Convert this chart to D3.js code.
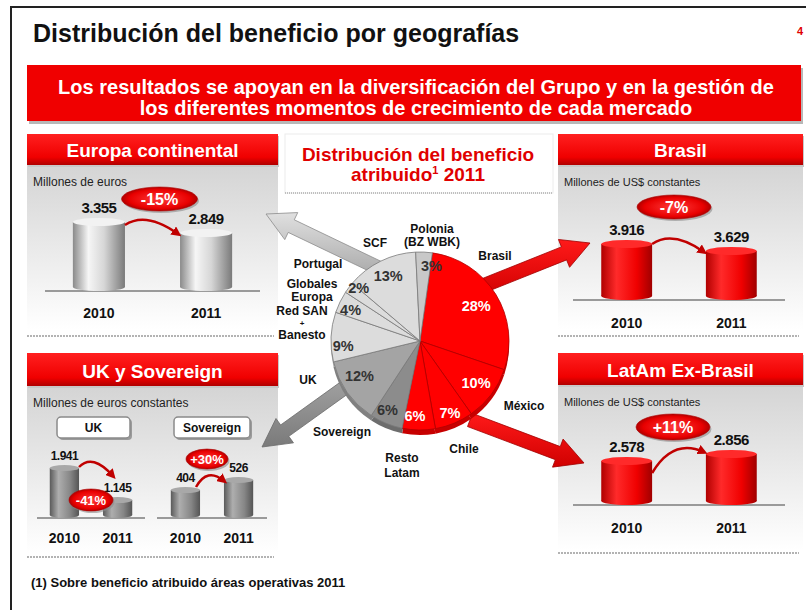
<!DOCTYPE html>
<html>
<head>
<meta charset="UTF-8">
<style>
  body { margin: 0; background: #fff; }
  svg { display: block; font-family: "Liberation Sans", Arial, sans-serif; }
</style>
</head>
<body>
<svg></svg>
<script src="https://d3js.org/d3.v7.min.js"></script>
<script>
// ---- data ----
const years = ["2010", "2011"];
const europaValues = [3355, 2849];
const ukValues = [1941, 1145];
const sovereignValues = [404, 526];
const brasilValues = [3916, 3629];
const latamValues = [2578, 2856];

const pieNames = ["Brasil", "México", "Chile", "Resto Latam", "Sovereign", "UK",
                  "Red SAN + Banesto", "Globales Europa", "Portugal", "SCF", "Polonia (BZ WBK)"];
const pieShares = [28, 10, 7, 6, 6, 12, 9, 4, 2, 13, 3];

const width = 806, height = 610;
const svg = d3.select("svg").attr("width", width).attr("height", height);
const defs = svg.append("defs");

const fmt = d3.formatLocale({decimal: ",", thousands: ".", grouping: [3], currency: ["", ""]}).format(",d");

function grad(id, stops, horizontal) {
  const g = defs.append("linearGradient").attr("id", id)
    .attr("x1", 0).attr("y1", 0).attr("x2", horizontal ? 1 : 0).attr("y2", horizontal ? 0 : 1);
  stops.forEach(s => g.append("stop").attr("offset", s[0]).attr("stop-color", s[1]));
}
grad("hdr", [[0, "#ff2020"], [0.75, "#f00000"], [1, "#b00000"]]);
grad("panelBg", [[0, "#d4d4d4"], [1, "#ffffff"]]);
grad("silver", [[0, "#8a8a8a"], [0.3, "#f6f6f6"], [0.6, "#d6d6d6"], [1, "#7a7a7a"]], true);
grad("grayCyl", [[0, "#5a5a5a"], [0.3, "#aeaeae"], [0.7, "#868686"], [1, "#555"]], true);
grad("redCyl", [[0, "#b00000"], [0.3, "#ff2a2a"], [0.7, "#f00000"], [1, "#a00000"]], true);
grad("grayArrow", [[0, "#e0e0e0"], [1, "#a8a8a8"]]);
grad("darkArrow", [[0, "#a8a8a8"], [1, "#7a7a7a"]]);
grad("redArrow", [[0, "#ff1a1a"], [1, "#d00000"]]);
const rg = defs.append("radialGradient").attr("id", "badge");
rg.append("stop").attr("offset", 0).attr("stop-color", "#ff3a3a");
rg.append("stop").attr("offset", 0.8).attr("stop-color", "#e80000");
rg.append("stop").attr("offset", 1).attr("stop-color", "#b00000");

defs.append("marker").attr("id", "arrowhead")
  .attr("viewBox", "0 -5 10 10").attr("refX", 6).attr("refY", 0)
  .attr("markerWidth", 4).attr("markerHeight", 4).attr("orient", "auto")
  .append("path").attr("d", "M0,-5L10,0L0,5").attr("fill", "#c00000");

// ---- frame and headings ----
svg.append("path").attr("d", "M11," + height + "V7H" + width)
  .attr("fill", "none").attr("stroke", "#222").attr("stroke-width", 2);

svg.append("text").attr("x", 33).attr("y", 42)
  .attr("font-size", 25).attr("font-weight", "bold").attr("fill", "#111")
  .text("Distribución del beneficio por geografías");
svg.append("text").attr("x", 797).attr("y", 35)
  .attr("font-size", 11).attr("font-weight", "bold").attr("fill", "#e00000").text("4");

svg.append("rect").attr("x", 29).attr("y", 68).attr("width", 774).attr("height", 56).attr("fill", "#b8b8b8");
svg.append("rect").attr("x", 27).attr("y", 65).attr("width", 774).attr("height", 56).attr("fill", "#f00000");
const banner = svg.append("text").attr("text-anchor", "middle").attr("fill", "#fff")
  .attr("font-size", 20).attr("font-weight", "bold");
banner.append("tspan").attr("x", 416).attr("y", 94)
  .text("Los resultados se apoyan en la diversificación del Grupo y en la gestión de");
banner.append("tspan").attr("x", 416).attr("y", 115)
  .text("los diferentes momentos de crecimiento de cada mercado");

// ---- side panels ----
function panel(x, y, w, hh, bodyBottom, lineY, title, subtitle, subSize) {
  const g = svg.append("g");
  g.append("rect").attr("x", x).attr("y", y + hh).attr("width", w).attr("height", bodyBottom - y - hh)
    .attr("fill", "url(#panelBg)");
  g.append("rect").attr("x", x + 1).attr("y", y + 2).attr("width", w).attr("height", hh).attr("fill", "#c8c8c8");
  g.append("rect").attr("x", x).attr("y", y).attr("width", w).attr("height", hh).attr("fill", "url(#hdr)");
  g.append("text").attr("x", x + w / 2).attr("y", y + hh - 8).attr("text-anchor", "middle")
    .attr("font-size", 19).attr("font-weight", "bold").attr("fill", "#fff").text(title);
  g.append("text").attr("x", x + 6).attr("y", y + hh + 21).attr("font-size", subSize).attr("fill", "#222").text(subtitle);
  g.append("line").attr("x1", x).attr("x2", x + w - 4).attr("y1", lineY).attr("y2", lineY)
    .attr("stroke", "#9a9a9a").attr("stroke-width", 1.5).attr("stroke-dasharray", "2,1");
}
panel(27, 134, 251, 31, 330, 336, "Europa continental", "Millones de euros", 12);
panel(27, 353, 251, 33, 553, 557, "UK y Sovereign", "Millones de euros constantes", 12);
panel(558, 134, 245, 31, 330, 336, "Brasil", "Millones de US$ constantes", 11);
panel(558, 353, 245, 32, 550, 553, "LatAm Ex-Brasil", "Millones de US$ constantes", 11);

// small tabs in UK panel
[["UK", 57, 73], ["Sovereign", 174, 76]].forEach(t => {
  svg.append("rect").attr("x", t[1] + 2).attr("y", 419).attr("width", t[2]).attr("height", 21).attr("rx", 4)
    .attr("fill", "#9a9a9a");
  svg.append("rect").attr("x", t[1]).attr("y", 417).attr("width", t[2]).attr("height", 21).attr("rx", 4)
    .attr("fill", "#fff").attr("stroke", "#8a8a8a").attr("stroke-width", 1.5);
  svg.append("text").attr("x", t[1] + t[2] / 2).attr("y", 432).attr("text-anchor", "middle")
    .attr("font-size", 12).attr("font-weight", "bold").attr("fill", "#111").text(t[0]);
});

// ---- central title ----
svg.append("rect").attr("x", 285).attr("y", 134).attr("width", 268).attr("height", 59)
  .attr("fill", "none").attr("stroke", "#ececec");
svg.append("line").attr("x1", 285).attr("x2", 552).attr("y1", 193).attr("y2", 193)
  .attr("stroke", "#8a8a8a").attr("stroke-dasharray", "1,1");
const ct = svg.append("text").attr("text-anchor", "middle").attr("fill", "#e00000")
  .attr("font-size", 19).attr("font-weight", "bold");
ct.append("tspan").attr("x", 418).attr("y", 161).text("Distribución del beneficio");
const l2 = ct.append("tspan").attr("x", 418).attr("y", 181);
l2.append("tspan").text("atribuido");
l2.append("tspan").attr("font-size", 11).attr("dy", -7).text("1");
l2.append("tspan").attr("dy", 7).text(" 2011");

// ---- big arrows from pie to panels ----
function bigArrow(x0, y0, x1, y1, shaft, headW, headL) {
  const dx = x1 - x0, dy = y1 - y0, L = Math.hypot(dx, dy);
  const ux = dx / L, uy = dy / L, nx = -uy, ny = ux;
  const bx = x1 - ux * headL, by = y1 - uy * headL;
  return [
    [x0 + nx * shaft / 2, y0 + ny * shaft / 2], [bx + nx * shaft / 2, by + ny * shaft / 2],
    [bx + nx * headW / 2, by + ny * headW / 2], [x1, y1],
    [bx - nx * headW / 2, by - ny * headW / 2], [bx - nx * shaft / 2, by - ny * shaft / 2],
    [x0 - nx * shaft / 2, y0 - ny * shaft / 2]
  ];
}
const arrows = [
  {from: [385, 271], to: [266, 214], fill: "url(#grayArrow)", stroke: "#8c8c8c"},
  {from: [365, 373], to: [262, 447], fill: "url(#darkArrow)", stroke: "#6a6a6a"},
  {from: [470, 291], to: [590, 243], fill: "url(#redArrow)", stroke: "#a00000"},
  {from: [470, 420], to: [584, 463], fill: "url(#redArrow)", stroke: "#a00000"}
];
const lineGen = d3.line().curve(d3.curveLinearClosed);
arrows.forEach(a => {
  svg.append("path").attr("d", lineGen(bigArrow(a.from[0], a.from[1], a.to[0], a.to[1], 14, 30, 28)))
    .attr("fill", a.fill).attr("stroke", a.stroke).attr("stroke-width", 0.8);
});

// ---- pie ----
const cx = 420, cy = 341, R = 89, depth = 5;
const slices = d3.pie().sort(null)
  .startAngle(8 * Math.PI / 180).endAngle(368 * Math.PI / 180)(pieShares);
const arc = d3.arc().innerRadius(0).outerRadius(R);
function sliceFill(i) {
  if (i < 4) return "#ff0000";
  if (i === 4) return "#8c8c8c";
  if (i === 5) return "#a4a4a4";
  if (i === 10) return "#c8c8c8";
  return "#dcdcdc";
}
// percentage label placement: [angle nudge in degrees, radius]
const pctPlacement = {
  "Brasil": [0, 66], "México": [0, 70], "Chile": [0, 78], "Resto Latam": [3, 75],
  "Sovereign": [3, 76], "UK": [5, 70], "Red SAN + Banesto": [-6, 77],
  "Globales Europa": [-2, 76], "Portugal": [4, 81], "SCF": [0, 72], "Polonia (BZ WBK)": [6, 76]
};
const pieG = svg.append("g").attr("transform", "translate(" + cx + "," + cy + ")");
pieG.append("g").attr("transform", "translate(0," + depth + ")")
  .selectAll("path").data(slices).join("path")
  .attr("d", arc).attr("fill", (d, i) => d3.color(sliceFill(i)).darker(0.7));
pieG.append("g").selectAll("path").data(slices).join("path")
  .attr("d", arc).attr("fill", (d, i) => sliceFill(i))
  .attr("stroke", (d, i) => i < 4 ? "#b00000" : "#7a7a7a").attr("stroke-width", 0.8);
pieG.append("g").selectAll("text").data(slices).join("text")
  .attr("transform", (d, i) => {
    const p = pctPlacement[pieNames[i]];
    const a = (d.startAngle + d.endAngle) / 2 + p[0] * Math.PI / 180;
    return "translate(" + d3.pointRadial(a, p[1]) + ")";
  })
  .attr("dy", "0.35em").attr("text-anchor", "middle")
  .attr("font-size", 14.5).attr("font-weight", "bold")
  .attr("fill", (d, i) => i < 4 ? "#fff" : "#333")
  .text(d => d.data + "%");

// outer labels: offset from pie centre, text lines, line step
const pieLabelLayout = {
  "Brasil": [75, -85, ["Brasil"], 0],
  "México": [104, 65, ["México"], 0],
  "Chile": [44, 108, ["Chile"], 0],
  "Resto Latam": [-18, 117, ["Resto", "Latam"], 15],
  "Sovereign": [-78, 91, ["Sovereign"], 0],
  "UK": [-112, 39, ["UK"], 0],
  "Red SAN + Banesto": [-118, -30, ["Red SAN", "+", "Banesto"], 12],
  "Globales Europa": [-108, -57, ["Globales", "Europa"], 13],
  "Portugal": [-102, -77, ["Portugal"], 0],
  "SCF": [-45, -98, ["SCF"], 0],
  "Polonia (BZ WBK)": [12, -112, ["Polonia", "(BZ WBK)"], 13]
};
pieNames.forEach(name => {
  const lay = pieLabelLayout[name];
  const t = pieG.append("text").attr("text-anchor", "middle")
    .attr("font-size", 12).attr("font-weight", "bold").attr("fill", "#111");
  lay[2].forEach((ln, k) => {
    t.append("tspan").attr("x", lay[0]).attr("y", lay[1] + 4 + k * lay[3] - (ln === "+" ? 1 : 0))
      .attr("font-size", ln === "+" ? 8 : null).text(ln);
  });
});

// ---- bar charts ----
const charts = [
  {values: europaValues, x0: 45, x1: 260, base: 291, padIn: 0.514, padOut: 0.26, lo: 0, hMax: 73,
   fill: "silver", cap: "#f2f2f2", capR: 4, yearY: 318, badge: [7, -19, 38, 12, 16], arcOff: [0, 7, -2, 5], fs: 15},
  {values: brasilValues, x0: 573, x1: 785, base: 300, padIn: 0.514, padOut: 0.27, lo: 1456, hMax: 60,
   fill: "redCyl", cap: "#ff2a2a", capR: 4, yearY: 328, badge: [-5, -33, 37, 12, 16], arcOff: [0, 4, -2, 5], fs: 15},
  {values: latamValues, x0: 573, x1: 785, base: 505, padIn: 0.514, padOut: 0.27, lo: 672, hMax: 55,
   fill: "redCyl", cap: "#ff2a2a", capR: 4, yearY: 533, badge: [-6, -23, 37, 13, 16], arcOff: [0, 16, -2, 2], fs: 15},
  {values: ukValues, x0: 37, x1: 145, base: 518, padIn: 0.45, padOut: 0.24, lo: 623, hMax: 53,
   fill: "grayCyl", cap: "#a8a8a8", capR: 3, yearY: 543, badge: [0, 35, 22, 11, 13], arcOff: [0, 2, 10, -21], fs: 12},
  {values: sovereignValues, x0: 157, x1: 267, base: 518, padIn: 0.45, padOut: 0.26, lo: 26, hMax: 41,
   fill: "grayCyl", cap: "#a8a8a8", capR: 3, yearY: 543, badge: [-5, -18, 21, 10, 13], arcOff: [-4, 0, 0, 4], fs: 12}
];

charts.forEach(c => {
  const x = d3.scaleBand().domain(years).range([c.x0, c.x1]).paddingInner(c.padIn).paddingOuter(c.padOut);
  const y = d3.scaleLinear().domain([c.lo, d3.max(c.values)]).range([c.base, c.base - c.hMax]);
  const g = svg.append("g");
  const bw = x.bandwidth(), r = c.capR;
  const rows = years.map((yr, i) => ({yr: yr, v: c.values[i]}));

  g.append("line").attr("x1", c.x0).attr("x2", c.x1).attr("y1", c.base).attr("y2", c.base)
    .attr("stroke", "#9a9a9a").attr("stroke-width", 2);

  const bar = g.selectAll("g.bar").data(rows).join("g").attr("class", "bar");
  bar.append("ellipse").attr("cx", d => x(d.yr) + bw / 2).attr("cy", c.base - r)
    .attr("rx", bw / 2).attr("ry", r).attr("fill", "url(#" + c.fill + ")");
  bar.append("rect").attr("x", d => x(d.yr)).attr("y", d => y(d.v) + r)
    .attr("width", bw).attr("height", d => c.base - y(d.v) - 2 * r).attr("fill", "url(#" + c.fill + ")");
  bar.append("ellipse").attr("cx", d => x(d.yr) + bw / 2).attr("cy", d => y(d.v) + r)
    .attr("rx", bw / 2).attr("ry", r).attr("fill", c.cap);

  bar.append("text").attr("x", d => x(d.yr) + bw / 2).attr("y", d => y(d.v) - 5)
    .attr("text-anchor", "middle").attr("font-size", c.fs).attr("font-weight", "bold")
    .attr("letter-spacing", -0.5).attr("fill", "#111").text(d => fmt(d.v));
  bar.append("text").attr("x", d => x(d.yr) + bw / 2).attr("y", c.yearY)
    .attr("text-anchor", "middle").attr("font-size", 14).attr("font-weight", "bold")
    .attr("fill", "#111").text(d => d.yr);

  // curved change arrow
  const t1 = y(c.values[0]), t2 = y(c.values[1]);
  const sx = x(years[0]) + bw + c.arcOff[0], sy = t1 + c.arcOff[1];
  const ex = x(years[1]) + c.arcOff[2], ey = t2 + c.arcOff[3];
  const qx = sx + (ex - sx) * 0.4, qy = Math.min(sy, ey) - 14;
  g.append("path").attr("d", "M" + sx + "," + sy + "Q" + qx + "," + qy + " " + ex + "," + ey)
    .attr("fill", "none").attr("stroke", "#c00000").attr("stroke-width", 2.5)
    .attr("marker-end", "url(#arrowhead)");

  // change badge
  const change = Math.round((c.values[1] / c.values[0] - 1) * 100);
  const bx = (x(years[0]) + x(years[1]) + bw) / 2 + c.badge[0];
  const by = Math.min(t1, t2) + c.badge[1];
  g.append("ellipse").attr("cx", bx + 1.5).attr("cy", by + 2).attr("rx", c.badge[2]).attr("ry", c.badge[3])
    .attr("fill", "#8a8a8a").attr("opacity", 0.6);
  g.append("ellipse").attr("cx", bx).attr("cy", by).attr("rx", c.badge[2]).attr("ry", c.badge[3])
    .attr("fill", "url(#badge)").attr("stroke", "#b00000").attr("stroke-width", 0.6);
  g.append("text").attr("x", bx).attr("y", by).attr("dy", "0.36em").attr("text-anchor", "middle")
    .attr("font-size", c.badge[4]).attr("font-weight", "bold").attr("fill", "#fff")
    .text((change > 0 ? "+" : "") + change + "%");
});

// ---- footnote ----
svg.append("text").attr("x", 31).attr("y", 587).attr("font-size", 13).attr("font-weight", "bold")
  .attr("fill", "#111").text("(1)  Sobre beneficio atribuido áreas operativas 2011");
</script>
</body>
</html>
